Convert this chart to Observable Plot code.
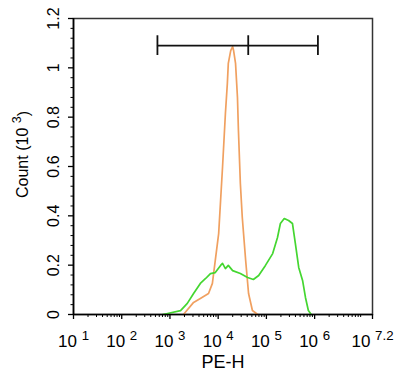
<!DOCTYPE html>
<html><head><meta charset="utf-8">
<script src="https://cdn.jsdelivr.net/npm/d3@7"></script>
<script src="https://cdn.jsdelivr.net/npm/@observablehq/plot@0.6"></script>
<style>
body{margin:0;background:#fff;}
#chart svg{font-family:"Liberation Sans",Arial,sans-serif;}
</style>
</head><body><div id="chart"></div>
<script>
// Orange histogram (isotype/control): PE-H as log10 exponent, Count in 10^3
const orangeLogX = [3.28,3.49,3.63,3.80,3.88,3.94,4.01,4.05,4.09,4.15,4.19,4.21,4.26,4.30,4.32,4.36,4.40,4.42,4.46,4.50,4.57,4.63,4.71,4.82];
const orangeCount = [0,0.049,0.065,0.085,0.126,0.219,0.328,0.462,0.596,0.815,0.936,1.018,1.070,1.086,1.070,1.018,0.880,0.746,0.531,0.393,0.219,0.085,0.016,0];
// Green histogram (stained sample)
const greenLogX = [2.85,2.95,3.22,3.36,3.49,3.63,3.74,3.84,3.94,4.05,4.09,4.15,4.21,4.30,4.46,4.61,4.73,4.84,4.98,5.13,5.23,5.29,5.37,5.46,5.54,5.60,5.67,5.75,5.81,5.87,5.93];
const greenCount = [0,0.004,0.016,0.045,0.085,0.126,0.146,0.166,0.170,0.199,0.207,0.186,0.199,0.178,0.166,0.150,0.142,0.158,0.199,0.247,0.312,0.369,0.389,0.381,0.369,0.288,0.191,0.138,0.069,0.016,0];
// Gate marker
const gateX = [550, 42000, 1170000];
const gateY = 1.09;
const gateHalf = 0.04;
// Axes
const xDomainExp = [1, 7.2];
const xTickExponents = ["1","2","3","4","5","6","7.2"];
const yTicks = [0,0.2,0.4,0.6,0.8,1,1.2];
const yTickLabels = ["0","0.2","0.4","0.6","0.8","1","1.2"];
const yMinorStep = 0.04;
const xLabel = "PE-H";
const yLabel = "Count (10^3^)";

const orange = orangeLogX.map((e,i)=>({x:10**e, y:orangeCount[i]}));
const green = greenLogX.map((e,i)=>({x:10**e, y:greenCount[i]}));
const xMax = 10**xDomainExp[1];
const xMajor = xTickExponents.map(e=>Math.min(10**(+e), xMax));
const xMinor = [];
for (let d=1; d<=7; d++) for (let k=2; k<=9; k++) { const v=k*10**d; if (v<=xMax) xMinor.push(v); }
const yMinor = d3.range(0, 1.2001, yMinorStep).filter(v=>Math.abs(v/0.2-Math.round(v/0.2))>1e-6);
const yLabelOf = v => yTickLabels[d3.minIndex(yTicks, t=>Math.abs(t-v))];

const plot = Plot.plot({
  width:400, height:383,
  marginLeft:73, marginRight:28, marginTop:18, marginBottom:69,
  x:{type:"log", domain:[10**xDomainExp[0], xMax]},
  y:{domain:[0,1.2]},
  style:{fontFamily:"'Liberation Sans',Arial,sans-serif", fontSize:"15px", color:"#000", background:"#fff"},
  marks:[
    Plot.frame({stroke:"#333", strokeWidth:1.5}),
    Plot.line(orange, {x:"x", y:"y", stroke:"#f0a060", strokeWidth:1.7}),
    Plot.line(green, {x:"x", y:"y", stroke:"#44d630", strokeWidth:1.7}),
    Plot.ruleY([gateY], {x1:gateX[0], x2:gateX[2], stroke:"#111", strokeWidth:1.8}),
    Plot.ruleX(gateX, {y1:gateY-gateHalf, y2:gateY+gateHalf, stroke:"#111", strokeWidth:1.8}),
    Plot.axisX(xMinor, {tickSize:3, tickFormat:()=>"", label:null}),
    Plot.axisX(xMajor, {tickSize:5, tickFormat:()=>"", label:null, strokeWidth:1.3}),
    Plot.text(xMajor, {x:d=>d, frameAnchor:"bottom", text:(d,i)=>"10^"+xTickExponents[i]+"^", dy:27, textAnchor:"middle", lineAnchor:"middle", fontSize:17}),
    Plot.axisY(yMinor, {tickSize:2.5, tickFormat:()=>"", label:null}),
    Plot.axisY(yTicks, {tickSize:5, tickFormat:()=>"", label:null, strokeWidth:1.3}),
    Plot.text(yTicks, {y:d=>d, frameAnchor:"left", text:d=>yLabelOf(d), rotate:-90, dx:-20, textAnchor:"middle", lineAnchor:"middle", fontSize:16}),
    Plot.text([yLabel], {frameAnchor:"left", text:d=>d, rotate:-90, dx:-51, dy:-12, textAnchor:"middle", lineAnchor:"middle", fontSize:16}),
    Plot.text([xLabel], {frameAnchor:"bottom", text:d=>d, dy:48, textAnchor:"middle", lineAnchor:"middle", fontSize:18}),
    Plot.ruleY([0], {stroke:"#000", strokeWidth:1.6}),
    Plot.ruleX([10**xDomainExp[0]], {stroke:"#000", strokeWidth:1.6})
  ]
});
document.getElementById("chart").appendChild(plot);

// Render "base^exp^rest" as text with a raised, smaller exponent
d3.select(plot).selectAll("text").each(function(){
  const t = this.textContent;
  if (!t.includes("^")) return;
  const parts = t.split("^");
  const el = d3.select(this);
  el.text(null);
  el.append("tspan").text(parts[0] + " ");
  el.append("tspan").attr("dy","-0.5em").attr("font-size","0.78em").text(parts[1]);
  if (parts[2]) el.append("tspan").attr("dy","0.5em").text(parts[2]);
});
</script>
</body></html>
